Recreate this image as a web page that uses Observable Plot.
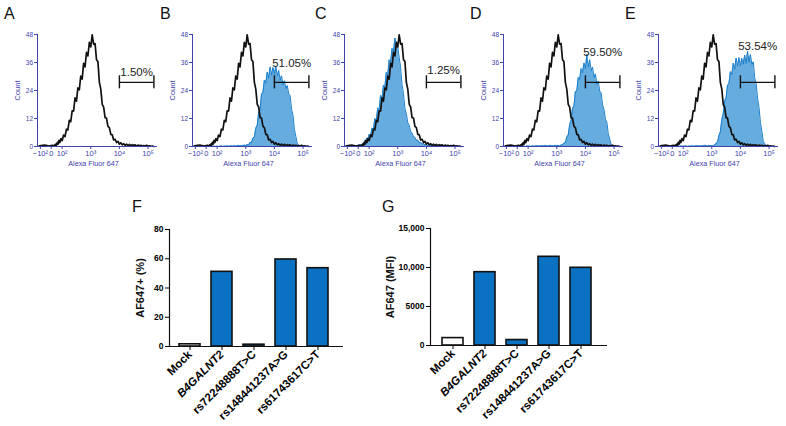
<!DOCTYPE html>
<html><head><meta charset="utf-8">
<script src="https://cdn.jsdelivr.net/npm/d3@7"></script>
<script src="https://cdn.jsdelivr.net/npm/@observablehq/plot@0.6"></script>
<style>
body{margin:0;background:#fff;}
#fig{position:relative;width:786px;height:426px;background:#fff;font-family:"Liberation Sans",Arial,sans-serif;overflow:hidden;}
.pl{position:absolute;}
.lt{position:absolute;font-size:16px;line-height:16px;color:#111;}
</style></head><body><div id="fig"></div>
<script>
// ---------- data ----------
const panelLetters = ["A","B","C","D","E"];
const gatePct = ["1.50%","51.05%","1.25%","59.50%","53.54%"];
const gatePctCount = [31.7,35.6,32.6,40.3,42.9];
const gateLow = 10000, gateHigh = 160000, gateCount = 27.5;

const lowX = [-110,-60,-20,10];
const lxStart = 1.5, lxStep = 0.05; // histogram channel grid (log10 intensity)

const mockLow = [0.3,0.6,0.2,0.5];
const mockCounts = [0.3,0.8,0.2,1.1,0.6,1.8,1.0,2.6,1.7,3.4,
 2.5,4.9,4.2,7.4,7.1,11.2,10.6,15.3,15.2,20.8,
 19.4,25.1,24.3,30.2,28.9,35.6,34.1,40.3,38.8,44.6,
 42.7,47.8,43.9,44.1,37.2,36.4,27.5,24.6,18.1,16.9,
 12.4,12.2,8.6,8.1,5.2,5.0,2.8,3.1,1.7,2.2,
 1.0,1.6,0.7,1.2,0.5,1.0,0.4,0.9,0.3,0.8,
 0.4,0.7,0.2,0.6,0.3,0.5,0.1,0.4,0.2,0.5,
 0.1,0.3,0.1,0.2,0.0];

const sampleLowB = [0,0,0,0];
const sampleCountsB = [0,0.1,0,0.2,0,0.1,0,0.2,0.1,0,
 0.2,0,0.1,0.3,0,0.2,0.1,0.3,0.1,0.2,
 0.3,0.1,0.4,0.2,0.3,0.5,0.2,0.4,0.3,0.6,
 0.4,0.9,0.6,1.8,1.6,3.6,4.0,7.8,9.1,14.6,
 15.8,22.4,23.1,28.5,27.2,31.9,29.4,34.1,30.6,33.9,
 31.0,34.4,30.2,32.6,28.4,30.3,26.5,28.2,24.8,26.1,
 22.6,21.8,15.9,13.4,7.2,4.3,1.2,0.6,0.2,0.1,
 0,0.1,0,0,0];

const sampleLowC = [0.2,0.4,0.3,0.6];
const sampleCountsC = [0.7,0.4,1.2,0.9,1.9,1.4,2.8,2.2,3.7,3.1,
 5.2,4.6,7.9,7.5,12.0,11.3,16.4,15.9,21.9,20.5,
 26.3,25.6,31.8,30.7,37.2,36.0,42.1,40.4,46.5,44.2,
 42.8,38.1,33.9,26.4,22.7,16.3,14.1,10.2,9.0,6.4,
 5.8,4.2,3.9,2.6,2.8,1.6,1.9,1.0,1.3,0.7,
 0.9,0.4,0.8,0.5,0.7,0.3,0.6,0.4,0.5,0.2,
 0.5,0.3,0.4,0.1,0.3,0.2,0.4,0.1,0.2,0.1,
 0.2,0,0.1,0,0];

const sampleLowD = [0,0,0,0];
const sampleCountsD = [0,0.1,0,0.2,0.1,0,0.2,0.1,0,0.3,
 0.1,0.2,0,0.3,0.1,0.2,0.4,0.1,0.3,0.2,
 0.4,0.2,0.5,0.3,0.2,0.5,0.3,0.4,0.2,0.5,
 0.3,0.5,0.2,0.6,0.8,1.4,1.6,4.1,4.9,9.3,
 11.2,16.3,17.4,23.5,23.8,29.6,28.7,33.4,31.6,35.8,
 33.2,39.6,34.1,37.2,32.5,34.0,29.6,31.1,26.7,28.0,
 23.6,23.1,17.8,15.9,11.6,10.4,5.3,3.2,0.8,0.5,
 0.1,0.2,0,0.1,0];

const sampleLowE = [0,0,0,0];
const sampleCountsE = [0.1,0,0.2,0,0.1,0.2,0,0.1,0.3,0,
 0.2,0.1,0.3,0,0.2,0.1,0.3,0.2,0.1,0.4,
 0.2,0.3,0.1,0.4,0.2,0.5,0.3,0.2,0.4,0.3,
 0.4,0.2,0.7,1.3,1.8,4.6,6.3,11.4,13.9,19.6,
 20.8,26.3,26.9,32.1,30.8,35.7,33.2,37.9,34.4,38.1,
 34.6,37.8,35.3,39.2,35.6,40.8,36.1,39.4,35.2,36.3,
 29.4,27.1,20.6,16.8,10.2,6.5,2.1,1.2,0.2,0.3,
 0,0.1,0,0,0];

const xTickValues = [-100,0,100,1000,10000,100000];
const xTickLabels = ["−10²","0","10²","10³","10⁴","10⁵"];
const yTicksHist = [0,12,24,36,48];

const samples = ["Mock","B4GALNT2","rs72248888T>C","rs148441237A>G","rs61743617C>T"];
const pctPositive = [1.5,51.05,1.25,59.5,53.54];
const mfiValues = [950,9400,700,11370,9960];
const yTicksF = [0,20,40,60,80];
const yTicksG = [0,5000,10000,15000];

// ---------- helpers ----------
const FONT = '"Liberation Sans", Arial, sans-serif';
const AXIS_BLUE = "#4242ad";
const FILL_BLUE = "#67acde";
const LINE_BLUE = "#1b7fcb";
const BAR_BLUE = "#0b71c2";
// biexponential-like display transform (log above 100, linear around 0)
function tf(v){ return v >= 100 ? Math.log10(v) : 1.62 + 0.38 * v / 100; }
const xDomain = [1.14, 5.33];
const tickLabelMap = new Map(xTickValues.map((v,i)=>[tf(v), xTickLabels[i]]));

function series(low, counts){
  return [...low.map((c,i)=>({x: tf(lowX[i]), y: c})),
          ...counts.map((c,i)=>({x: tf(Math.pow(10, lxStart + i*lxStep)), y: c}))];
}
const mockSeries = series(mockLow, mockCounts);
const sampleSeries = [null, series(sampleLowB, sampleCountsB), series(sampleLowC, sampleCountsC),
                      series(sampleLowD, sampleCountsD), series(sampleLowE, sampleCountsE)];

const fig = document.getElementById("fig");
const axisXpos = [37,192,344,503,658];
const letterX = [4,160,315,470,625];
const ML = 34, MR = 4, MT = 4, MB = 26;

panelLetters.forEach((L, k) => {
  const s = sampleSeries[k];
  const gate = {lo: tf(gateLow), hi: tf(gateHigh), y: gateCount, pct: gatePct[k], ly: gatePctCount[k]};
  const marks = [];
  if (s) {
    marks.push(Plot.areaY(s, {x: "x", y: "y", fill: FILL_BLUE}));
    marks.push(Plot.lineY(s, {x: "x", y: "y", stroke: LINE_BLUE, strokeWidth: 1}));
  }
  marks.push(Plot.lineY(mockSeries, {x: "x", y: "y", stroke: "#111", strokeWidth: 1.7}));
  marks.push(Plot.ruleY([0], {stroke: AXIS_BLUE, strokeWidth: 1}));
  marks.push(Plot.ruleX([xDomain[0]], {stroke: AXIS_BLUE, strokeWidth: 1}));
  marks.push(Plot.axisY({ticks: yTicksHist, tickSize: 3, tickPadding: 1.5, fontSize: 6.5, color: AXIS_BLUE, label: null}));
  marks.push(Plot.axisX({ticks: xTickValues.map(tf), tickFormat: d => tickLabelMap.get(d), tickSize: 3, tickPadding: 1.5, fontSize: 7.5, color: AXIS_BLUE, label: null}));
  marks.push(Plot.text(["Count"], {frameAnchor: "left", textAnchor: "middle", rotate: -90, dx: -20, fill: AXIS_BLUE, fontSize: 7.5}));
  marks.push(Plot.text(["Alexa Fluor 647"], {frameAnchor: "bottom", textAnchor: "middle", dy: 19, dx: -4, fill: AXIS_BLUE, fontSize: 7.2}));
  marks.push(Plot.ruleY([gate], {x1: "lo", x2: "hi", y: "y", stroke: "#111", strokeWidth: 1.4}));
  marks.push(Plot.ruleX([gate], {x: "lo", y1: d => d.y - 2.8, y2: d => d.y + 2.8, stroke: "#111", strokeWidth: 1.4}));
  marks.push(Plot.ruleX([gate], {x: "hi", y1: d => d.y - 2.8, y2: d => d.y + 2.8, stroke: "#111", strokeWidth: 1.4}));
  marks.push(Plot.text([gate], {x: d => (d.lo + d.hi) / 2, y: "ly", text: "pct", fontSize: 11.5, fill: "#222"}));
  const svg = Plot.plot({
    width: ML + 120 + MR, height: MT + 112 + MB,
    marginLeft: ML, marginRight: MR, marginTop: MT, marginBottom: MB,
    style: {background: "transparent", fontFamily: FONT, overflow: "visible"},
    x: {type: "linear", domain: xDomain},
    y: {domain: [0, 48]},
    marks
  });
  svg.classList.add("pl");
  svg.style.left = (axisXpos[k] - ML) + "px";
  svg.style.top = (34 - MT) + "px";
  fig.appendChild(svg);
  const lt = document.createElement("div");
  lt.className = "lt"; lt.textContent = L;
  lt.style.left = letterX[k] + "px"; lt.style.top = "6px";
  fig.appendChild(lt);
});

// ---------- bar charts ----------
function barChart(values, opts){
  const data = samples.map((s,i)=>({name: s, v: values[i]}));
  const svg = Plot.plot({
    width: opts.ML + opts.W + 6, height: 8 + 117 + 80,
    marginLeft: opts.ML, marginRight: 6, marginTop: 8, marginBottom: 80,
    style: {background: "transparent", fontFamily: FONT, fontWeight: "bold", overflow: "visible"},
    x: {domain: samples, paddingInner: 0.35, paddingOuter: 0.2, insetLeft: opts.insL, insetRight: opts.insR},
    y: {domain: opts.domain},
    marks: [
      Plot.barY(data, {x: "name", y: "v", fill: d => d.name === "Mock" ? "white" : BAR_BLUE, stroke: "#111", strokeWidth: 1.6}),
      Plot.ruleY([0], {stroke: "#111", strokeWidth: 1.2}),
      Plot.frame({anchor: "left", stroke: "#111", strokeWidth: 1.2}),
      Plot.axisY({ticks: opts.ticks, tickFormat: opts.fmt, tickSize: 4, tickPadding: 2, fontSize: 8.5, label: null}),
      Plot.axisX({tickRotate: -45, tickSize: 4, tickPadding: 2, fontSize: 11.5, label: null}),
      Plot.text([opts.label], {frameAnchor: "left", textAnchor: "middle", rotate: -90, dx: opts.labelDx, fontSize: 11, fontWeight: "bold", fill: "#111"})
    ]
  });
  d3.select(svg).selectAll("text")
    .filter(function(){ return this.textContent.trim() === "B4GALNT2"; })
    .attr("font-style", "italic").style("font-style", "italic");
  svg.classList.add("pl");
  svg.style.left = opts.left + "px";
  svg.style.top = opts.top + "px";
  fig.appendChild(svg);
}
barChart(pctPositive, {ML: 45, W: 174, insL: 2, insR: 8, domain: [0,80], ticks: yTicksF, fmt: d => String(d),
  label: "AF647+ (%)", labelDx: -29, left: 169 - 45, top: 229 - 8});
barChart(mfiValues, {ML: 50, W: 177, insL: 4, insR: 8, domain: [0,15000], ticks: yTicksG, fmt: d => d >= 10000 ? d3.format(",")(d) : String(d),
  label: "AF647 (MFI)", labelDx: -40, left: 430 - 50, top: 228 - 8});

[["F",132],["G",382]].forEach(([L,x])=>{
  const lt = document.createElement("div");
  lt.className = "lt"; lt.textContent = L;
  lt.style.left = x + "px"; lt.style.top = "199px";
  fig.appendChild(lt);
});
</script></body></html>
